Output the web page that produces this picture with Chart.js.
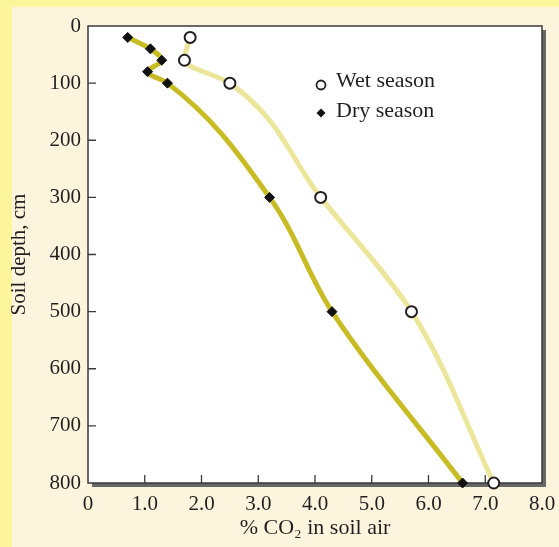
<!DOCTYPE html>
<html>
<head>
<meta charset="utf-8">
<script src="https://cdn.jsdelivr.net/npm/chart.js@4.4.1/dist/chart.umd.min.js"></script>
<style>
  html, body { margin: 0; padding: 0; }
  body { width: 559px; height: 547px; background: #fdf59b; position: relative; overflow: hidden; }
  #panel { position: absolute; left: 12px; top: 7px; right: 0; bottom: 0; background: #fdf4dd; }
  #wrap { position: absolute; left: 0; top: 0; width: 559px; height: 547px; }
</style>
</head>
<body>
<div id="panel"></div>
<div id="wrap"><canvas id="co2Chart"></canvas></div>
<script>
// Valeurs
const wetDepth = [20, 60, 100, 300, 500, 800];
const wetCo2   = [1.8, 1.7, 2.5, 4.1, 5.7, 7.15];
const dryDepth = [20, 40, 60, 80, 100, 300, 500, 800];
const dryCo2   = [0.7, 1.1, 1.3, 1.05, 1.4, 3.2, 4.3, 6.6];
const xTicks = [0, 1, 2, 3, 4, 5, 6, 7, 8];
const yTicks = [0, 100, 200, 300, 400, 500, 600, 700, 800];
const seriesLabels = ["Wet season", "Dry season"];

const ink = "#231f20";
const serif = "'Liberation Serif', 'DejaVu Serif', serif";

// fond blanc + ombre, cadre et graduations vers l'intérieur
const frame = {
  id: "frame",
  beforeDraw(chart) {
    const { ctx, chartArea: a } = chart;
    ctx.save();
    ctx.fillStyle = "#676767";
    ctx.fillRect(a.left + 4, a.top + 4, a.width, a.height);
    ctx.fillStyle = "#ffffff";
    ctx.fillRect(a.left, a.top, a.width, a.height);
    ctx.restore();
  },
  beforeDatasetsDraw(chart) {
    const { ctx, chartArea: a, scales } = chart;
    ctx.save();
    ctx.strokeStyle = "#3a3a3a";
    ctx.lineWidth = 1.5;
    ctx.strokeRect(a.left, a.top, a.width, a.height);
    ctx.lineWidth = 1.3;
    ctx.beginPath();
    xTicks.slice(1, -1).forEach(v => {
      const px = scales.x.getPixelForValue(v);
      ctx.moveTo(px, a.bottom);
      ctx.lineTo(px, a.bottom - 8);
    });
    yTicks.slice(1, -1).forEach(v => {
      const py = scales.y.getPixelForValue(v);
      ctx.moveTo(a.left, py);
      ctx.lineTo(a.left + 8, py);
    });
    ctx.stroke();
    ctx.restore();
  },
  afterDraw(chart) {
    // légende dans la zone du graphique
    const { ctx, chartArea: a } = chart;
    const lx = a.left + 233;
    const rows = [a.top + 57, a.top + 87];
    ctx.save();
    ctx.font = "22px " + serif;
    ctx.textBaseline = "middle";
    ctx.textAlign = "left";
    chart.data.datasets.forEach((ds, i) => {
      const y = rows[i];
      if (i === 0) {
        ctx.beginPath();
        ctx.arc(lx, y + 2, 4.5, 0, Math.PI * 2);
        ctx.fillStyle = "#fff";
        ctx.fill();
        ctx.lineWidth = 1.8;
        ctx.strokeStyle = ink;
        ctx.stroke();
      } else {
        ctx.beginPath();
        ctx.moveTo(lx, y - 4.5);
        ctx.lineTo(lx + 4.5, y);
        ctx.lineTo(lx, y + 4.5);
        ctx.lineTo(lx - 4.5, y);
        ctx.closePath();
        ctx.fillStyle = "#111";
        ctx.fill();
      }
      ctx.fillStyle = ink;
      ctx.fillText(ds.label, lx + 15, y - 2);
    });
    ctx.restore();
  }
};

const ctx = document.getElementById("co2Chart").getContext("2d");
new Chart(ctx, {
  type: "scatter",
  data: {
    datasets: [
      {
        label: seriesLabels[0],
        data: wetDepth.map((d, i) => ({ x: wetCo2[i], y: d })),
        showLine: true,
        indexAxis: "y",
        cubicInterpolationMode: "monotone",
        borderColor: "#ebe69a",
        borderWidth: 5,
        pointStyle: "circle",
        pointRadius: 5.5,
        pointBackgroundColor: "#ffffff",
        pointBorderColor: ink,
        pointBorderWidth: 2,
        clip: false
      },
      {
        label: seriesLabels[1],
        data: dryDepth.map((d, i) => ({ x: dryCo2[i], y: d })),
        showLine: true,
        indexAxis: "y",
        cubicInterpolationMode: "monotone",
        borderColor: "#c8bc25",
        borderWidth: 5,
        pointStyle: "rectRot",
        pointRadius: 5,
        pointBackgroundColor: "#111111",
        pointBorderColor: "#111111",
        pointBorderWidth: 1,
        clip: false
      }
    ]
  },
  options: {
    responsive: true,
    maintainAspectRatio: false,
    animation: false,
    indexAxis: "y",
    layout: { padding: { left: 0, top: 26, right: 17, bottom: 0 } },
    plugins: {
      legend: { display: false },
      tooltip: { enabled: false }
    },
    scales: {
      x: {
        type: "linear",
        min: 0,
        max: 8,
        afterFit: s => { s.height = 64; s.paddingLeft = 0; s.paddingRight = 0; },
        afterBuildTicks: s => { s.ticks = xTicks.map(v => ({ value: v })); },
        grid: { display: false, drawTicks: false },
        border: { display: false },
        ticks: {
          padding: 9,
          color: ink,
          font: { family: serif, size: 21 },
          callback: v => (v === 0 ? "0" : v.toFixed(1))
        },
        title: {
          display: true,
          text: "% CO₂ in soil air",
          color: ink,
          font: { family: serif, size: 22 },
          padding: { top: 0, bottom: 6 }
        }
      },
      y: {
        type: "linear",
        min: 0,
        max: 800,
        reverse: true,
        afterFit: s => { s.width = 88; s.paddingTop = 0; s.paddingBottom = 0; },
        afterBuildTicks: s => { s.ticks = yTicks.map(v => ({ value: v })); },
        grid: { display: false, drawTicks: false },
        border: { display: false },
        ticks: {
          padding: 7,
          color: ink,
          font: { family: serif, size: 21 },
          callback: v => String(v)
        },
        title: {
          display: true,
          text: "Soil depth, cm",
          color: ink,
          font: { family: serif, size: 21 },
          padding: { top: 7, bottom: 0 }
        }
      }
    }
  },
  plugins: [frame]
});
</script>
</body>
</html>
